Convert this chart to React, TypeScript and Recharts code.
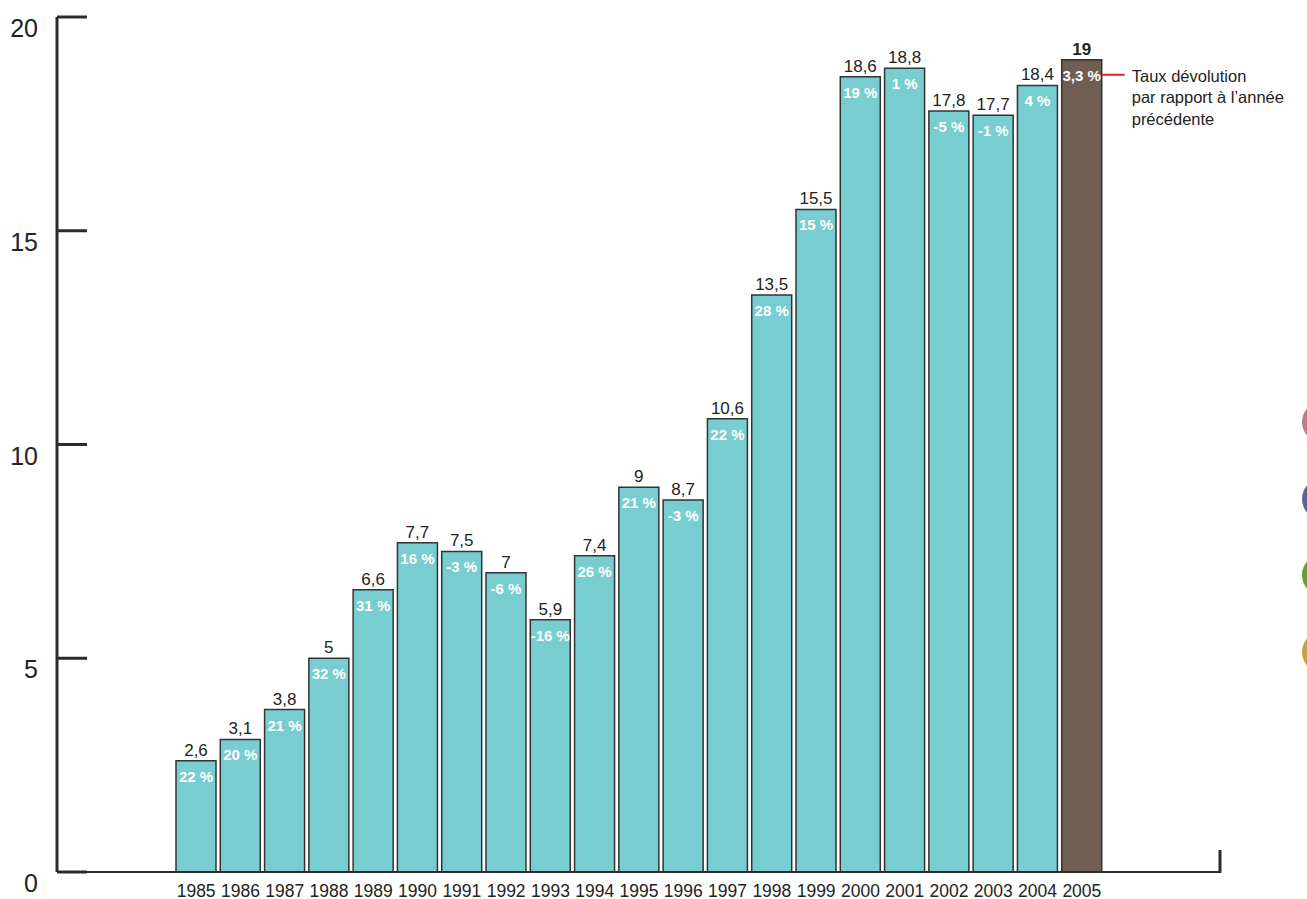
import React from "react";
import { Bar, BarChart, Cell, LabelList, XAxis, YAxis, usePlotArea } from "recharts";

const years = [
  "1985", "1986", "1987", "1988", "1989", "1990", "1991", "1992", "1993", "1994", "1995",
  "1996", "1997", "1998", "1999", "2000", "2001", "2002", "2003", "2004", "2005",
];
const production = [
  2.6, 3.1, 3.8, 5, 6.6, 7.7, 7.5, 7, 5.9, 7.4, 9, 8.7, 10.6, 13.5, 15.5, 18.6, 18.8, 17.8, 17.7,
  18.4, 19,
];
const growth = [
  "22 %", "20 %", "21 %", "32 %", "31 %", "16 %", "-3 %", "-6 %", "-16 %", "26 %", "21 %",
  "-3 %", "22 %", "28 %", "15 %", "19 %", "1 %", "-5 %", "-1 %", "4 %", "3,3 %",
];
const yTicks = [0, 5, 10, 15, 20];
const noteLines = ["Taux dévolution", "par rapport à l’année", "précédente"];
const dots = ["#c27a86", "#5b6397", "#6a9c35", "#c7a040"];

const data = years.map((year, i) => ({ year, production: production[i], growth: growth[i] }));
const last = data.length - 1;

const FONT = "'Liberation Sans', Arial, Helvetica, sans-serif";
const INK = "#232323";

const YTick = (props: any) => {
  const { x, y, payload } = props;
  return (
    <g>
      <line x1={x} x2={x + 30} y1={y} y2={y} stroke="#2b2b2b" strokeWidth={3} />
      <text x={x - 19} y={y + 20} textAnchor="end" fontSize={25} fill={INK} fontFamily={FONT}>
        {payload.value}
      </text>
    </g>
  );
};

const XTick = (props: any) => {
  const { x, y, payload } = props;
  return (
    <text x={x} y={y + 25} textAnchor="middle" fontSize={17.5} fill={INK} fontFamily={FONT}>
      {payload.value}
    </text>
  );
};

const ValueLabel = (props: any) => {
  const { x, y, width, value, index } = props;
  return (
    <text
      x={x + width / 2}
      y={y - 5}
      textAnchor="middle"
      fontSize={17}
      fontWeight={index === last ? "bold" : "normal"}
      fill={INK}
      fontFamily={FONT}
    >
      {String(value).replace(".", ",")}
    </text>
  );
};

const GrowthLabel = (props: any) => {
  const { x, y, width, value, index } = props;
  return (
    <g>
      <text
        x={x + width / 2}
        y={y + 21}
        textAnchor="middle"
        fontSize={15}
        fontWeight="bold"
        fill="#ffffff"
        fontFamily={FONT}
      >
        {value}
      </text>
      {index === last && (
        <g>
          <line x1={x + width} x2={x + width + 23} y1={y + 15} y2={y + 15} stroke="#e3202a" strokeWidth={2} />
          {noteLines.map((line, k) => (
            <text
              key={k}
              x={x + width + 30}
              y={y + 22 + k * 21.7}
              fontSize={16.5}
              fill={INK}
              fontFamily={FONT}
            >
              {line}
            </text>
          ))}
        </g>
      )}
    </g>
  );
};

// short upright tick closing the right end of the baseline
const EndTick = () => {
  const area = usePlotArea();
  if (!area) return null;
  const right = area.x + area.width;
  const bottom = area.y + area.height;
  return <line x1={right} x2={right} y1={bottom - 22} y2={bottom + 1} stroke="#2b2b2b" strokeWidth={3} />;
};

export default function App() {
  return (
    <div style={{ position: "absolute", left: 0, top: 0, width: 1307, height: 899, background: "#fff", overflow: "hidden" }}>
      <BarChart
        width={1307}
        height={899}
        data={data}
        margin={{ top: 17, right: 87, bottom: 0, left: 56 }}
      >
        <XAxis
          dataKey="year"
          height={27}
          padding={{ left: 117, right: 116 }}
          tickLine={false}
          tickSize={0}
          tickMargin={0}
          tick={<XTick />}
          interval={0}
          axisLine={{ stroke: "#2b2b2b", strokeWidth: 2 }}
        />
        <YAxis
          width={1}
          domain={[0, 20]}
          ticks={yTicks}
          tickLine={false}
          tickSize={0}
          tickMargin={0}
          tick={<YTick />}
          axisLine={{ stroke: "#2b2b2b", strokeWidth: 3 }}
        />
        <Bar dataKey="production" barSize={40} stroke="#333333" strokeWidth={1.5} isAnimationActive={false}>
          {data.map((d, i) => (
            <Cell key={d.year} fill={i === last ? "#705e52" : "#77cdd0"} />
          ))}
          <LabelList dataKey="production" content={<ValueLabel />} />
          <LabelList dataKey="growth" content={<GrowthLabel />} />
        </Bar>
        <EndTick />
      </BarChart>
      {dots.map((c, i) => (
        <div
          key={c}
          style={{
            position: "absolute",
            left: 1302,
            top: 401 + i * 76.7,
            width: 42,
            height: 42,
            borderRadius: "50%",
            background: c,
          }}
        />
      ))}
    </div>
  );
}
